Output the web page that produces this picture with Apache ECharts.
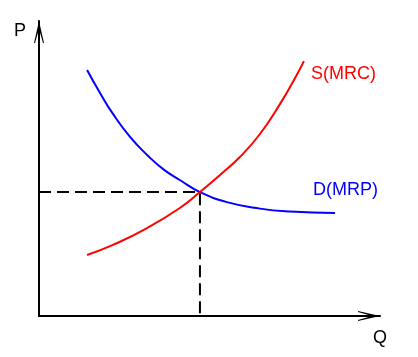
<!DOCTYPE html>
<html>
<head>
<meta charset="utf-8">
<script src="https://cdn.jsdelivr.net/npm/echarts@6/dist/echarts.min.js"></script>
<style>
html,body{margin:0;padding:0;background:#fff;}
#c{width:418px;height:357px;}
</style>
</head>
<body>
<div id="c"></div>
<script>
// Supply curve S(MRC)
var supplyQ = [14.1, 21.7, 31.7, 41.3, 47.2, 53.1, 58.9, 64.8, 70.7, 75.1, 77.7];
var supplyP = [20.7, 24.1, 29.8, 36.6, 42.0, 47.8, 53.9, 61.7, 71.9, 80.7, 86.4];
// Demand curve D(MRP)
var demandQ = [14.1, 17.9, 21.7, 26.7, 31.7, 36.4, 41.3, 47.2, 55.1, 64.8, 73.6, 86.8];
var demandP = [83.4, 75.6, 68.5, 60.7, 54.6, 49.8, 46.1, 42.0, 38.6, 36.4, 35.4, 34.9];
// Equilibrium
var eqQ = 47.2;
var eqP = 42.0;
// Names
var seriesNames = ['S(MRC)', 'D(MRP)'];
var axisNames = ['Q', 'P'];

function pairs(xs, ys) { return xs.map(function (x, i) { return [x, ys[i]]; }); }

var FONT = 'Liberation Sans';
var arrowPath = 'path://M5,0 L10,22 L9,22 L5,8 L1,22 L0,22 Z';
var axisLineCfg = {
  show: true,
  onZero: false,
  symbol: ['none', arrowPath],
  symbolSize: [10, 22],
  symbolOffset: [0, -11],
  lineStyle: { color: '#000', width: 2 }
};

var chart = echarts.init(document.getElementById('c'), null, { renderer: 'canvas' });
chart.setOption({
  animation: false,
  backgroundColor: '#fff',
  grid: { left: 39, right: 38, top: 21, bottom: 41, containLabel: false },
  xAxis: {
    type: 'value', min: 0, max: 100,
    axisLine: axisLineCfg,
    axisTick: { show: false }, axisLabel: { show: false }, splitLine: { show: false }
  },
  yAxis: {
    type: 'value', min: 0, max: 100,
    axisLine: axisLineCfg,
    axisTick: { show: false }, axisLabel: { show: false }, splitLine: { show: false }
  },
  graphic: [
    { type: 'text', left: 14, top: 22, style: { text: axisNames[1], font: '18px "' + FONT + '"', fill: '#000' } },
    { type: 'text', left: 373, top: 329, style: { text: axisNames[0], font: '18px "' + FONT + '"', fill: '#000' } }
  ],
  series: [
    {
      type: 'line', name: 'eq', silent: true, symbol: 'none',
      data: [[0, eqP], [eqQ, eqP], [eqQ, 0]],
      lineStyle: { color: '#000', width: 2, type: [12, 6] },
      z: 1
    },
    {
      type: 'line', name: seriesNames[0], symbol: 'none', smooth: true,
      data: pairs(supplyQ, supplyP),
      lineStyle: { color: '#ff0000', width: 2 },
      endLabel: { show: true, formatter: '{a}', color: '#ff0000', fontFamily: FONT, fontSize: 18, offset: [-1, 13] },
      z: 3
    },
    {
      type: 'line', name: seriesNames[1], symbol: 'none', smooth: true,
      data: pairs(demandQ, demandP),
      lineStyle: { color: '#0000ff', width: 2 },
      endLabel: { show: true, formatter: '{a}', color: '#0000ff', fontFamily: FONT, fontSize: 18, offset: [-30, -23] },
      z: 2
    }
  ]
});
</script>
</body>
</html>
